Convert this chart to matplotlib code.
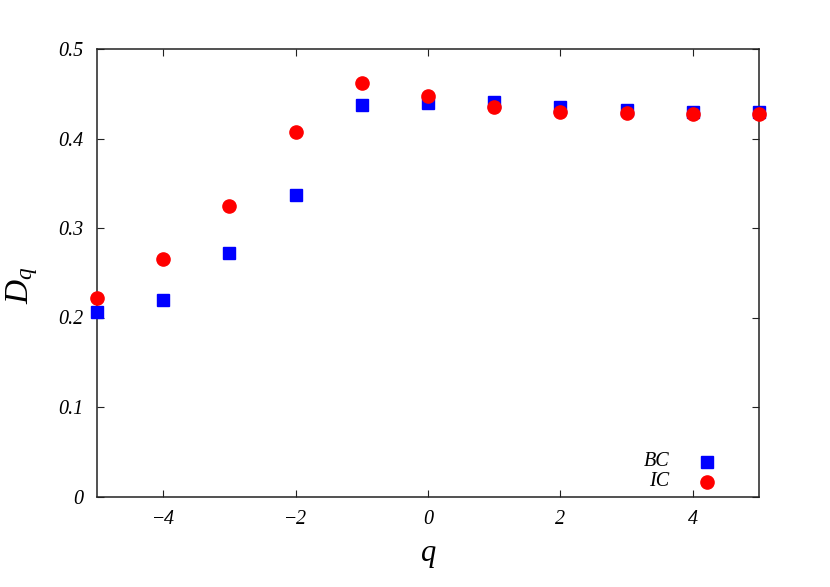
import numpy as np
import matplotlib
matplotlib.use('Agg')
import matplotlib.pyplot as plt

plt.rcParams['font.family'] = 'Liberation Serif'
plt.rcParams['mathtext.fontset'] = 'custom'
plt.rcParams['mathtext.rm'] = 'Liberation Serif'
plt.rcParams['mathtext.it'] = 'Liberation Serif:italic'

q     = [-5, -4, -3, -2, -1, 0, 1, 2, 3, 4, 5]
D_bc  = [0.206, 0.220, 0.272, 0.337, 0.437, 0.440, 0.441, 0.435, 0.432, 0.430, 0.430]
D_ic  = [0.222, 0.265, 0.325, 0.407, 0.462, 0.447, 0.435, 0.430, 0.428, 0.427, 0.427]
xticks = [-4, -2, 0, 2, 4]
yticks = [0, 0.1, 0.2, 0.3, 0.4, 0.5]

fig = plt.figure(figsize=(8.30, 5.87), dpi=100)
ax  = fig.add_axes([97/830, 1 - 496.5/587, (759 - 97)/830, (496.5 - 49)/587])

ax.plot(q, D_bc, ls='none', marker='s', ms=9.0, color='#0000ff', clip_on=False, zorder=3)
ax.plot(q, D_ic, ls='none', marker='o', ms=9.5, color='#ff0000', clip_on=False, zorder=4)

ax.set_xlim(-5, 5)
ax.set_ylim(0, 0.5)
ax.set_xticks(xticks)
ax.set_xticklabels([(r'$-$' + str(-t)) if t < 0 else str(t) for t in xticks], style='italic')
ax.set_yticks(yticks)
ax.set_yticklabels(['0' if t == 0 else '%.1f' % t for t in yticks], style='italic')
ax.tick_params('both', which='major', direction='in', length=5, width=0.8,
               labelsize=14.5, top=True, right=True, pad=10, colors='#222222', labelcolor='black')
for sp in ax.spines.values():
    sp.set_linewidth(1.1)
    sp.set_color('#222222')

ax.set_xlabel(r'$q$', fontsize=22, labelpad=8)
fig.text(22/830, 1 - 285/587, r'$D_q$', fontsize=24, rotation=90, ha='center', va='center')

# legend drawn by hand in axes fraction
ax.text(0.865, 0.078, 'BC', transform=ax.transAxes, ha='right', va='center', fontsize=14.5, style='italic')
ax.text(0.865, 0.033, 'IC', transform=ax.transAxes, ha='right', va='center', fontsize=14.5, style='italic')
ax.plot([0.922], [0.078], transform=ax.transAxes, marker='s', ms=9.0, color='#0000ff', clip_on=False)
ax.plot([0.922], [0.033], transform=ax.transAxes, marker='o', ms=9.5, color='#ff0000', clip_on=False)

fig.savefig('out.png', dpi=100)
